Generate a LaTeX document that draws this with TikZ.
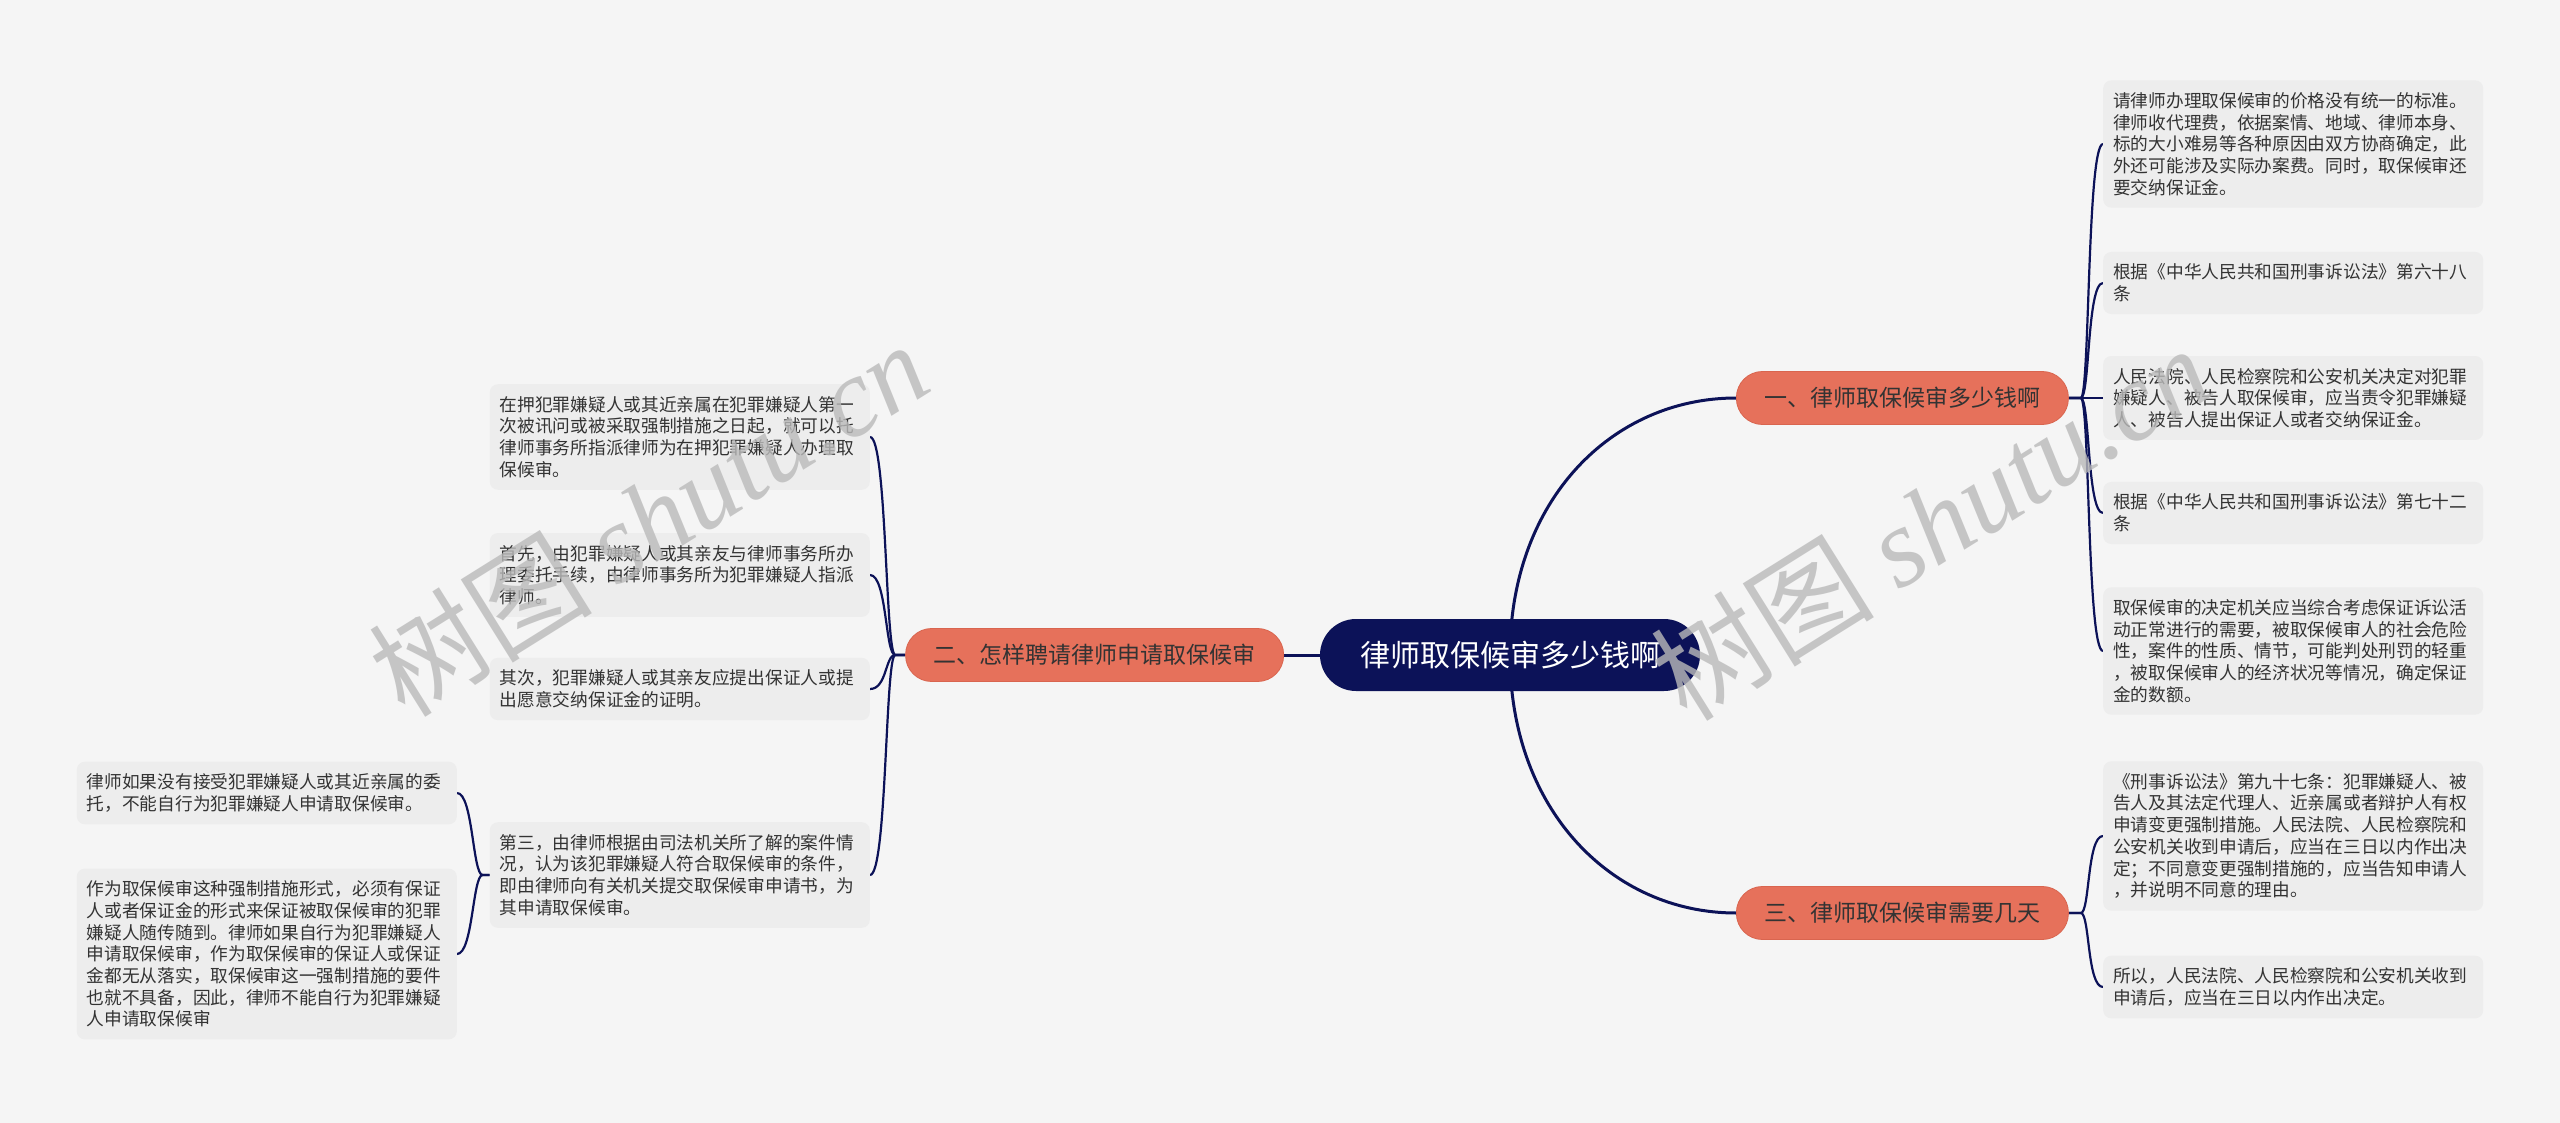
\documentclass[tikz,border=0pt]{standalone}
\usepackage{fontspec}
\setmainfont{Noto Sans CJK SC}
\newfontfamily\wmlatin{Liberation Serif}
\definecolor{bgc}{HTML}{F5F5F5}
\definecolor{boxc}{HTML}{EDEDED}
\definecolor{navy}{HTML}{0C1258}
\definecolor{salmon}{HTML}{E6715B}
\definecolor{salmonb}{HTML}{D9654F}
\definecolor{txt}{HTML}{333333}
\definecolor{wm}{HTML}{BABABA}
\pgfdeclarelayer{bglayer}
\pgfdeclarelayer{edgelayer}
\pgfsetlayers{bglayer,edgelayer,main}
\tikzset{
 leaf/.style={fill=boxc, rounded corners=8pt, text width=360pt, inner xsep=10pt, inner ysep=12pt, align=left, text=txt, font=\fontsize{17.7pt}{21.7pt}\selectfont},
 branchbox/.style={fill=salmon, draw=salmonb, line width=0.8pt, rounded corners=26pt, minimum height=53pt, inner xsep=28pt, text=txt, font=\fontsize{23pt}{27pt}\selectfont},
 rootbox/.style={fill=navy, rounded corners=36pt, minimum height=72pt, minimum width=380pt, text=white, font=\fontsize{30pt}{34pt}\selectfont},
 mainlink/.style={draw=navy, line width=3pt},
 sublink/.style={draw=navy, line width=2.2pt},
 wmark/.style={text=wm, opacity=0.8, rotate=32, font=\fontsize{112pt}{116pt}\selectfont}
}
\begin{document}
\begin{tikzpicture}[x=1pt,y=-1pt]
\useasboundingbox (0,0) rectangle (2560,1123);
\begin{pgfonlayer}{bglayer}
\fill[bgc] (0,0) rectangle (2560,1123);
\end{pgfonlayer}

\node[rootbox] (root) at (1510,655) {律师取保候审多少钱啊};
\node[branchbox, anchor=west] (b1) at (1736,398) {一、律师取保候审多少钱啊};
\node[branchbox, anchor=east] (b2) at (1284,655) {二、怎样聘请律师申请取保候审};
\node[branchbox, anchor=west] (b3) at (1736,913) {三、律师取保候审需要几天};

\node[leaf, anchor=west] (r1) at (2103,144) {请律师办理取保候审的价格没有统一的标准。\\律师收代理费，依据案情、地域、律师本身、\\标的大小难易等各种原因由双方协商确定，此\\外还可能涉及实际办案费。同时，取保候审还\\要交纳保证金。};
\node[leaf, anchor=west] (r2) at (2103,283) {根据《中华人民共和国刑事诉讼法》第六十八\\条};
\node[leaf, anchor=west] (r3) at (2103,398) {人民法院、人民检察院和公安机关决定对犯罪\\嫌疑人、被告人取保候审，应当责令犯罪嫌疑\\人、被告人提出保证人或者交纳保证金。};
\node[leaf, anchor=west] (r4) at (2103,513) {根据《中华人民共和国刑事诉讼法》第七十二\\条};
\node[leaf, anchor=west] (r5) at (2103,651) {取保候审的决定机关应当综合考虑保证诉讼活\\动正常进行的需要，被取保候审人的社会危险\\性，案件的性质、情节，可能判处刑罚的轻重\\，被取保候审人的经济状况等情况，确定保证\\金的数额。};
\node[leaf, anchor=west] (r6) at (2103,836) {《刑事诉讼法》第九十七条：犯罪嫌疑人、被\\告人及其法定代理人、近亲属或者辩护人有权\\申请变更强制措施。人民法院、人民检察院和\\公安机关收到申请后，应当在三日以内作出决\\定；不同意变更强制措施的，应当告知申请人\\，并说明不同意的理由。};
\node[leaf, anchor=west] (r7) at (2103,987) {所以，人民法院、人民检察院和公安机关收到\\申请后，应当在三日以内作出决定。};

\node[leaf, anchor=east] (l1) at (870,437) {在押犯罪嫌疑人或其近亲属在犯罪嫌疑人第一\\次被讯问或被采取强制措施之日起，就可以托\\律师事务所指派律师为在押犯罪嫌疑人办理取\\保候审。};
\node[leaf, anchor=east] (l2) at (870,575) {首先，由犯罪嫌疑人或其亲友与律师事务所办\\理委托手续，由律师事务所为犯罪嫌疑人指派\\律师。};
\node[leaf, anchor=east] (l3) at (870,689) {其次，犯罪嫌疑人或其亲友应提出保证人或提\\出愿意交纳保证金的证明。};
\node[leaf, anchor=east] (l4) at (870,875) {第三，由律师根据由司法机关所了解的案件情\\况，认为该犯罪嫌疑人符合取保候审的条件，\\即由律师向有关机关提交取保候审申请书，为\\其申请取保候审。};

\node[leaf, anchor=east] (f1) at (457,793) {律师如果没有接受犯罪嫌疑人或其近亲属的委\\托，不能自行为犯罪嫌疑人申请取保候审。};
\node[leaf, anchor=east] (f2) at (457,954) {作为取保候审这种强制措施形式，必须有保证\\人或者保证金的形式来保证被取保候审的犯罪\\嫌疑人随传随到。律师如果自行为犯罪嫌疑人\\申请取保候审，作为取保候审的保证人或保证\\金都无从落实，取保候审这一强制措施的要件\\也就不具备，因此，律师不能自行为犯罪嫌疑\\人申请取保候审};

\begin{pgfonlayer}{edgelayer}
\draw[mainlink] (root.center) .. controls +(0,-155) and +(-124,0) .. (b1.west);
\draw[mainlink] (root.center) .. controls +(0,155) and +(-124,0) .. (b3.west);
\draw[mainlink] (root.west) -- (b2.east);
\foreach \c in {r1,r2,r3,r4,r5}
  \draw[sublink] (b1.east) -- ++(12,0) .. controls +(9,0) and +(-16,0) .. (\c.west);
\foreach \c in {r6,r7}
  \draw[sublink] (b3.east) -- ++(12,0) .. controls +(9,0) and +(-16,0) .. (\c.west);
\foreach \c in {l1,l2,l3,l4}
  \draw[sublink] (b2.west) -- ++(-10,0) .. controls +(-10,0) and +(17,0) .. (\c.east);
\foreach \c in {f1,f2}
  \draw[sublink] (l4.west) -- ++(-7,0) .. controls +(-10,0) and +(16,0) .. (\c.east);
\end{pgfonlayer}

\node[wmark] (wm1) at (648,518) {树图 {\wmlatin\itshape shutu.cn}};
\node[wmark] (wm2) at (1930,522) {树图 {\wmlatin\itshape shutu.cn}};
\end{tikzpicture}
\end{document}
